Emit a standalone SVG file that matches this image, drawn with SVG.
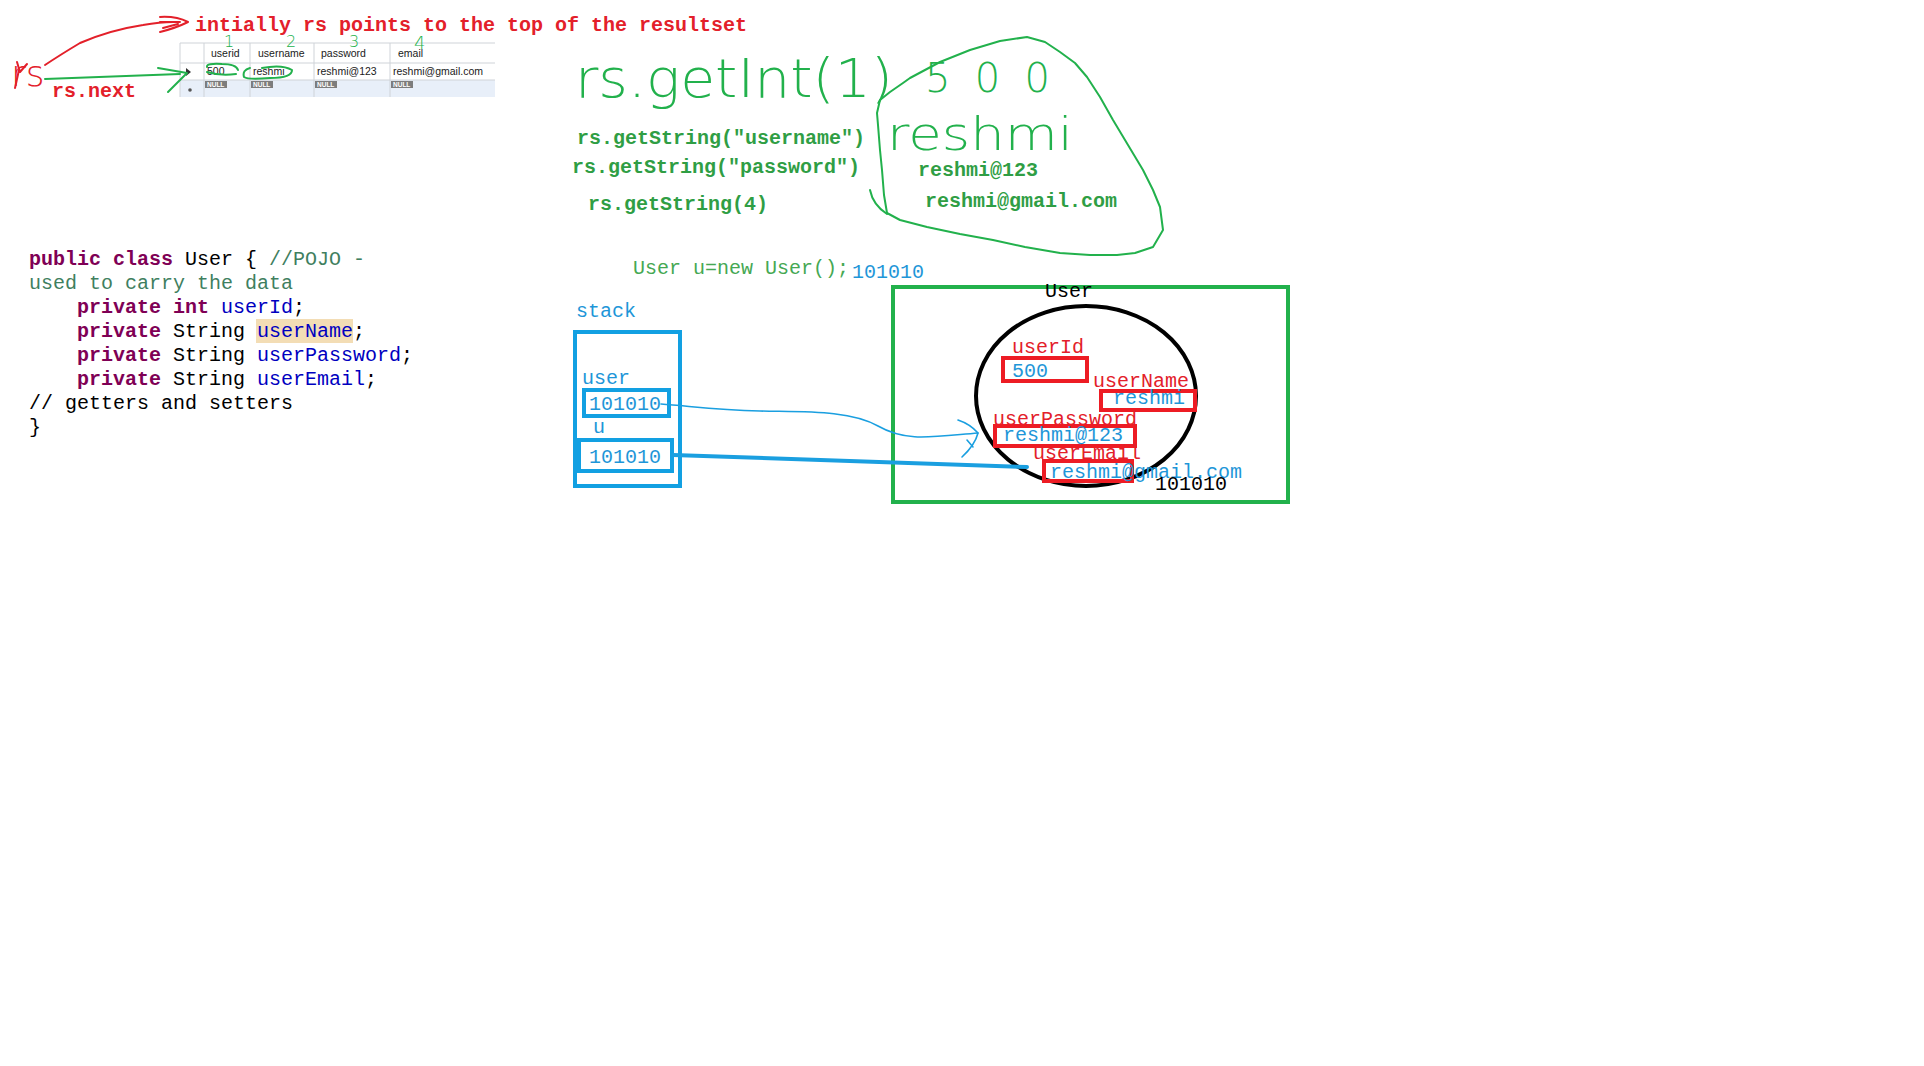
<svg xmlns="http://www.w3.org/2000/svg" width="1924" height="1066" viewBox="0 0 1924 1066">
<defs>
<style>
.mono{font-family:"Liberation Mono","DejaVu Sans Mono",monospace;font-size:20px}
.b{font-weight:bold}
.red{fill:#e3202a}
.gtxt{fill:#2f9e44}
.gtxt2{fill:#45a853}
.blue{fill:#1e96d8}
.hand{font-family:"DejaVu Sans",sans-serif;font-weight:200}
.kw{fill:#7f0055;font-weight:bold}
.fld{fill:#0000c0}
.cmt{fill:#3f7f5f}
.blk{fill:#000}
.tbl{font-family:"Liberation Sans",Arial,sans-serif;font-size:10.5px;fill:#1a1a1a}
.grid{stroke:#cfd3d8;stroke-width:1;fill:none}
.null{fill:#7d7d7d}
.nulltxt{font-family:"Liberation Sans",Arial,sans-serif;font-size:6.5px;font-weight:bold;fill:#fff}
.gpen{fill:none;stroke:#22b14c;stroke-width:2;stroke-linecap:round;stroke-linejoin:round}
.rpen{fill:none;stroke:#e3202a;stroke-width:2;stroke-linecap:round;stroke-linejoin:round}
.bpen{fill:none;stroke:#1a9fe0;stroke-linecap:round;stroke-linejoin:round}
.rbox{fill:none;stroke:#ed1c24;stroke-width:4}
.bbox{fill:none;stroke:#12a0e2;stroke-width:4}
</style>
</defs>
<rect width="1924" height="1066" fill="#fff"/>

<g id="title">
<text class="mono b red" x="195" y="31">intially rs points to the top of the resultset</text>
</g>

<g id="resultset-table">
<rect x="180" y="80" width="315" height="17" fill="#e8eff9"/>
<path class="grid" d="M180,43 H495 M180,63 H495 M180,80 H495 M180,43 V97 M204,43 V97 M250,43 V97 M314,43 V97 M390,43 V97"/>
<text class="tbl" x="211" y="57">userid</text>
<text class="tbl" x="258" y="57">username</text>
<text class="tbl" x="321" y="57">password</text>
<text class="tbl" x="398" y="57">email</text>
<text class="tbl" x="207" y="75">500</text>
<text class="tbl" x="253" y="75">reshmi</text>
<text class="tbl" x="317" y="75">reshmi@123</text>
<text class="tbl" x="393" y="75">reshmi@gmail.com</text>
<rect class="null" x="205" y="81" width="22" height="7"/><text class="nulltxt" x="207" y="87">NULL</text>
<rect class="null" x="251" y="81" width="22" height="7"/><text class="nulltxt" x="253" y="87">NULL</text>
<rect class="null" x="315" y="81" width="22" height="7"/><text class="nulltxt" x="317" y="87">NULL</text>
<rect class="null" x="391" y="81" width="22" height="7"/><text class="nulltxt" x="393" y="87">NULL</text>
<path d="M186,68 L191,72 L186,76 Z" fill="#333"/>
<circle cx="190" cy="90" r="1.8" fill="#555"/>
</g>

<g id="table-annotations">
<text class="hand" x="224" y="47" font-size="16" fill="#22b14c">1</text>
<text class="hand" x="286" y="47" font-size="16" fill="#22b14c">2</text>
<text class="hand" x="349" y="47" font-size="16" fill="#22b14c">3</text>
<text class="hand" x="414" y="49" font-size="18" fill="#22b14c">4</text>
<path class="gpen" d="M238,70 Q236,64 222,64 Q206,63 207,67 M207,72 Q220,76 236,74"/>
<path class="gpen" d="M262,68 Q282,64 292,70 Q292,78 270,78 Q248,80 244,77 Q242,70 250,68"/>
</g>

<g id="rs-pointer">
<text class="hand" x="11" y="86" font-size="36" fill="#e3202a">rs</text>
<text class="mono b red" x="52" y="97">rs.next</text>
</g>

<g id="getters">
<text class="hand" x="575" y="97" font-size="54" fill="#22b14c" textLength="318" lengthAdjust="spacingAndGlyphs">rs.getInt(1)</text>
<text class="mono b gtxt" x="577" y="144">rs.getString("username")</text>
<text class="mono b gtxt" x="572" y="173">rs.getString("password")</text>
<text class="mono b gtxt" x="588" y="210">rs.getString(4)</text>
</g>

<g id="values">
<path class="gpen" d="M910,78 L940,62 L970,50 L1000,41 L1027,37 L1045,42 L1060,52 L1075,63 L1087,77 L1100,97 L1113,120 L1128,145 L1143,170 L1153,190 L1160,207 L1163,230 L1153,247 L1135,253 L1117,255 L1090,255 L1060,253 L1025,247 L993,240 L960,234 L927,227 L900,220 L887,213 L884,195 L882,170 L880,150 L878,125 L877,113 L880,100 L890,92 L903,83 Z"/>
<path class="gpen" d="M870,190 Q873,205 887,214"/>
<text class="hand" x="925" y="92" font-size="40" fill="#22b14c" textLength="125" lengthAdjust="spacing">500</text>
<text class="hand" x="887" y="150" font-size="46" fill="#22b14c" textLength="186" lengthAdjust="spacingAndGlyphs">reshmi</text>
<text class="mono b gtxt" x="918" y="176">reshmi@123</text>
<text class="mono b gtxt" x="925" y="207">reshmi@gmail.com</text>
</g>

<g id="code">
<rect x="256" y="319" width="97" height="24" fill="#f3ddb5"/>
<text class="mono" x="29" y="265"><tspan class="kw">public class</tspan><tspan class="blk"> User { </tspan><tspan class="cmt">//POJO -</tspan></text>
<text class="mono cmt" x="29" y="289">used to carry the data</text>
<text class="mono" x="29" y="313" xml:space="preserve"><tspan class="blk">    </tspan><tspan class="kw">private int</tspan><tspan class="blk"> </tspan><tspan class="fld">userId</tspan><tspan class="blk">;</tspan></text>
<text class="mono" x="29" y="337" xml:space="preserve"><tspan class="blk">    </tspan><tspan class="kw">private</tspan><tspan class="blk"> String </tspan><tspan class="fld">userName</tspan><tspan class="blk">;</tspan></text>
<text class="mono" x="29" y="361" xml:space="preserve"><tspan class="blk">    </tspan><tspan class="kw">private</tspan><tspan class="blk"> String </tspan><tspan class="fld">userPassword</tspan><tspan class="blk">;</tspan></text>
<text class="mono" x="29" y="385" xml:space="preserve"><tspan class="blk">    </tspan><tspan class="kw">private</tspan><tspan class="blk"> String </tspan><tspan class="fld">userEmail</tspan><tspan class="blk">;</tspan></text>
<text class="mono blk" x="29" y="409">// getters and setters</text>
<text class="mono blk" x="29" y="433">}</text>
</g>

<g id="new-user">
<text class="mono gtxt2" x="633" y="274">User u=new User();</text>
<text class="mono blue" x="852" y="278">101010</text>
</g>

<g id="stack">
<text class="mono blue" x="576" y="317">stack</text>
<rect class="bbox" x="575" y="332" width="105" height="154"/>
<text class="mono blue" x="582" y="384">user</text>
<rect class="bbox" x="584" y="390" width="85" height="26"/>
<text class="mono blue" x="589" y="410">101010</text>
<text class="mono blue" x="593" y="433">u</text>
<rect class="bbox" x="579" y="440" width="93" height="31"/>
<text class="mono blue" x="589" y="463">101010</text>
</g>

<g id="heap">
<rect x="893" y="287" width="395" height="215" fill="none" stroke="#22b14c" stroke-width="4"/>
<text class="mono blk" x="1045" y="297">User</text>
<ellipse cx="1086" cy="396" rx="110" ry="90" fill="none" stroke="#000" stroke-width="4"/>
<text class="mono red" x="1012" y="353">userId</text>
<rect class="rbox" x="1003" y="358" width="84" height="23"/>
<text class="mono blue" x="1012" y="377">500</text>
<text class="mono red" x="1093" y="387">userName</text>
<rect class="rbox" x="1101" y="391" width="94" height="19"/>
<text class="mono blue" x="1113" y="404">reshmi</text>
<text class="mono red" x="993" y="425">userPassword</text>
<rect class="rbox" x="995" y="426" width="140" height="20"/>
<text class="mono blue" x="1003" y="441">reshmi@123</text>
<text class="mono red" x="1033" y="459">userEmail</text>
<rect class="rbox" x="1044" y="461" width="88" height="20"/>
<text class="mono blue" x="1050" y="478">reshmi@gmail.com</text>
<text class="mono blk" x="1155" y="490">101010</text>
</g>

<g id="connectors">
<path class="rpen" d="M45,65 Q60,55 80,43 Q110,30 143,25 Q160,22 173,22"/>
<path class="rpen" d="M160,17 Q176,16 188,22 Q176,28 160,32 M160,22 L180,22 M163,28 L178,24"/>
<path class="rpen" d="M17,62 L20,72 L27,64 M19,70 L15,88"/>
<path class="gpen" d="M45,79 L180,74 M158,68 L187,73 L168,92"/>
<path class="bpen" stroke-width="1.6" d="M661,404 C690,406 715,410 760,411 S850,410 878,426 S930,437 978,433"/>
<path class="bpen" stroke-width="1.6" d="M958,420 Q970,424 978,433 Q975,445 962,457 M967,440 L973,447"/>
<path class="bpen" stroke-width="4" d="M673,455 L1027,467"/>
</g>
</svg>
